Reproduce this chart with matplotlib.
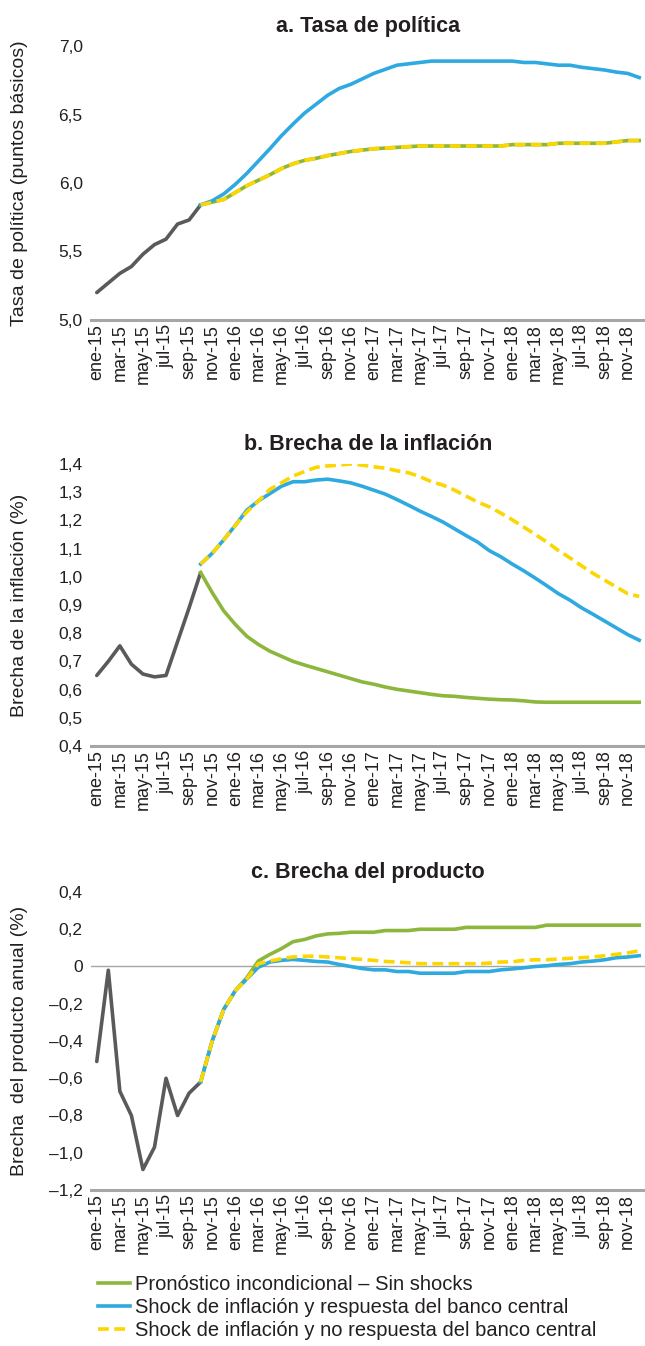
import matplotlib
matplotlib.use('Agg')
import matplotlib.pyplot as plt
import matplotlib.ticker as mticker
from matplotlib.lines import Line2D
from matplotlib import font_manager
import numpy as np

# monthly axis ene-15 .. dic-18
meses = ['ene', 'feb', 'mar', 'abr', 'may', 'jun', 'jul', 'ago', 'sep', 'oct', 'nov', 'dic']
fechas = [f'{m}-{a}' for a in ['15', '16', '17', '18'] for m in meses]

# a. Tasa de politica
tasa_hist = [5.20, 5.27, 5.34, 5.39, 5.48, 5.55, 5.59, 5.70, 5.73, 5.84]
tasa_sin = [5.84, 5.86, 5.88,
            5.93, 5.98, 6.02, 6.06, 6.105, 6.14, 6.165, 6.18, 6.20, 6.215, 6.23, 6.24,
            6.25, 6.255, 6.26, 6.265, 6.27, 6.27, 6.27, 6.27, 6.27, 6.27, 6.27, 6.27,
            6.28, 6.28, 6.28, 6.28, 6.29, 6.29, 6.29, 6.29, 6.29, 6.30, 6.31, 6.31]
tasa_resp = [5.84, 5.87, 5.92,
             5.99, 6.07, 6.16, 6.25, 6.345, 6.43, 6.51, 6.575, 6.64, 6.69, 6.72, 6.76,
             6.80, 6.83, 6.86, 6.87, 6.88, 6.89, 6.89, 6.89, 6.89, 6.89, 6.89, 6.89,
             6.89, 6.88, 6.88, 6.87, 6.86, 6.86, 6.845, 6.835, 6.825, 6.81, 6.80, 6.77]
tasa_nores = tasa_sin

# b. Brecha de la inflacion
infl_hist = [0.65, 0.70, 0.755, 0.69, 0.655, 0.645, 0.65, 0.77, 0.89, 1.015]
infl_sin = [1.015, 0.944, 0.879,
            0.831, 0.789, 0.76, 0.736, 0.718, 0.70, 0.687, 0.675, 0.663, 0.651, 0.639, 0.627,
            0.619, 0.609, 0.601, 0.595, 0.589, 0.583, 0.578, 0.576, 0.572, 0.569, 0.566, 0.564,
            0.563, 0.56, 0.556, 0.555, 0.555, 0.555, 0.555, 0.555, 0.555, 0.555, 0.555, 0.555]
infl_resp = [1.045, 1.083, 1.131,
             1.182, 1.236, 1.269, 1.295, 1.321, 1.337, 1.337, 1.343, 1.346, 1.34, 1.333, 1.321,
             1.307, 1.293, 1.274, 1.254, 1.233, 1.214, 1.194, 1.17, 1.146, 1.123, 1.093, 1.071,
             1.045, 1.021, 0.995, 0.968, 0.94, 0.917, 0.89, 0.867, 0.843, 0.819, 0.795, 0.775]
infl_nores = [1.045, 1.083, 1.131,
              1.182, 1.23, 1.268, 1.31, 1.333, 1.357, 1.373, 1.388, 1.393, 1.396, 1.40, 1.396,
              1.39, 1.385, 1.376, 1.369, 1.355, 1.337, 1.325, 1.307, 1.286, 1.265, 1.248, 1.226,
              1.202, 1.176, 1.15, 1.123, 1.093, 1.067, 1.039, 1.012, 0.988, 0.964, 0.94, 0.93]

# c. Brecha del producto
prod_hist = [-0.51, -0.02, -0.67, -0.80, -1.09, -0.97, -0.60, -0.80, -0.68, -0.62]
prod_sin = [-0.62, -0.40, -0.23,
            -0.13, -0.06, 0.03, 0.065, 0.096, 0.133, 0.145, 0.164, 0.175, 0.178, 0.184, 0.184,
            0.184, 0.193, 0.193, 0.193, 0.20, 0.20, 0.20, 0.20, 0.21, 0.21, 0.21, 0.21,
            0.21, 0.21, 0.21, 0.222, 0.222, 0.222, 0.222, 0.222, 0.222, 0.222, 0.222, 0.222]
prod_resp = [-0.62, -0.40, -0.23,
             -0.13, -0.067, -0.004, 0.024, 0.033, 0.038, 0.033, 0.027, 0.024, 0.011, 0.0, -0.011,
             -0.018, -0.018, -0.027, -0.027, -0.036, -0.036, -0.036, -0.036, -0.027, -0.027, -0.027, -0.018,
             -0.013, -0.007, 0.0, 0.004, 0.011, 0.015, 0.024, 0.029, 0.036, 0.047, 0.051, 0.058]
prod_nores = [-0.62, -0.40, -0.23,
              -0.13, -0.067, 0.015, 0.029, 0.042, 0.051, 0.055, 0.055, 0.051, 0.047, 0.042, 0.038,
              0.033, 0.027, 0.024, 0.02, 0.015, 0.015, 0.015, 0.015, 0.015, 0.015, 0.018, 0.024,
              0.025, 0.033, 0.036, 0.036, 0.04, 0.044, 0.047, 0.051, 0.058, 0.065, 0.073, 0.084]

leyenda = ['Pronóstico incondicional – Sin shocks',
           'Shock de inflación y respuesta del banco central',
           'Shock de inflación y no respuesta del banco central']

GRIS = '#5a5a5a'
VERDE = '#8cb63c'
AZUL = '#2eaae1'
AMARILLO = '#fcd600'
EJE = '#a6a6a6'
TXT = '#231f20'

nombres = {f.name for f in font_manager.fontManager.ttflist}
fuente = 'Liberation Sans' if 'Liberation Sans' in nombres else 'DejaVu Sans'
plt.rcParams['font.family'] = [fuente, 'DejaVu Sans']

x_hist = np.arange(len(tasa_hist))
x_proy = np.arange(len(tasa_hist) - 1, len(fechas))


def fmt(v, pos):
    if abs(v) < 1e-9:
        return '0'
    s = f'{v:.1f}'.replace('.', ',')
    return s.replace('-', '–')


fig = plt.figure(figsize=(6.45, 13.46), dpi=100)
paneles = [
    ('a. Tasa de política', 'Tasa de política (puntos básicos)', tasa_hist, tasa_sin, tasa_resp, tasa_nores,
     (5.0, 7.0), 0.5, [0.9658, 0.7623]),
    ('b. Brecha de la inflación', 'Brecha de la inflación (%)', infl_hist, infl_sin, infl_resp, infl_nores,
     (0.4, 1.4), 0.1, [0.6553, 0.4458]),
    ('c. Brecha del producto', 'Brecha  del producto anual (%)', prod_hist, prod_sin, prod_resp, prod_nores,
     (-1.2, 0.4), 0.2, [0.3373, 0.1159]),
]

left, right = 91 / 645, 645 / 645
for titulo, ylab, hist, sin, resp, nores, ylim, paso, (top, bot) in paneles:
    ax = fig.add_axes([left, bot, right - left, top - bot])
    if ylim[0] < 0:
        ax.axhline(0, color=EJE, lw=1.0, zorder=1)
    ax.plot(x_hist, hist, color=GRIS, lw=2.6, solid_capstyle='round', zorder=3)
    ax.plot(x_proy, sin, color=VERDE, lw=2.6, zorder=3)
    ax.plot(x_proy, resp, color=AZUL, lw=2.6, zorder=4)
    ax.plot(x_proy, nores, color=AMARILLO, lw=2.6, dashes=(3, 1.5), zorder=5)
    ax.set_xlim(-0.5, len(fechas) - 0.5)
    ax.set_ylim(*ylim)
    ax.yaxis.set_major_locator(mticker.MultipleLocator(paso))
    ax.yaxis.set_major_formatter(mticker.FuncFormatter(fmt))
    ax.set_xticks(np.arange(0, len(fechas), 2))
    ax.set_xticklabels(fechas[::2], rotation=90, fontsize=13)
    ax.tick_params(axis='both', length=0, pad=3, labelcolor=TXT)
    ax.tick_params(axis='y', labelsize=12.5, pad=6)
    for s in ['top', 'right', 'left']:
        ax.spines[s].set_visible(False)
    ax.spines['bottom'].set_color(EJE)
    ax.spines['bottom'].set_linewidth(2.2)
    ax.set_title(titulo, fontsize=15.5, fontweight='bold', color=TXT, pad=10)
    fig.text(11 / 645, (top + bot) / 2, ylab, rotation=90, ha='left', va='center',
             fontsize=14, color=TXT)

handles = [Line2D([], [], color=VERDE, lw=2.6),
           Line2D([], [], color=AZUL, lw=2.6),
           Line2D([], [], color=AMARILLO, lw=2.6, dashes=(3, 1.5))]
fig.legend(handles, leyenda, loc='upper left', bbox_to_anchor=(0.152, 0.053), frameon=False,
           fontsize=14.5, handlelength=1.6, handletextpad=0.25, labelspacing=0.2,
           borderaxespad=0, borderpad=0, labelcolor=TXT)

fig.savefig('out.png', dpi=100)
